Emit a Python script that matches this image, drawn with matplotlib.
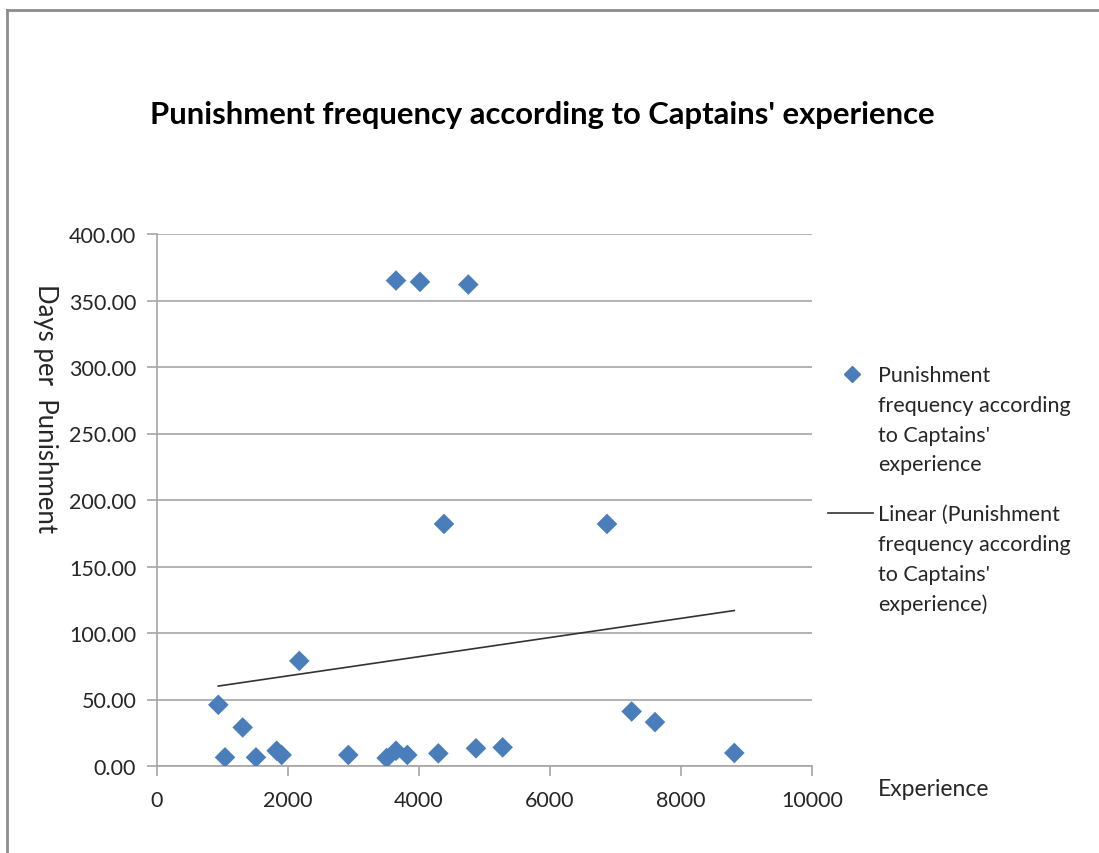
import numpy as np
import matplotlib
matplotlib.use("Agg")
import matplotlib.pyplot as plt
from matplotlib.lines import Line2D

# Captain experience vs. days between punishments
experience = [936, 1038, 1308, 1511, 1827, 1903, 2173, 2921, 3506, 3649,
              3649, 3822, 4015, 4295, 4382, 4753, 4870, 5277, 6870, 7247,
              7603, 8814]
days_per_punishment = [46, 6.5, 29, 6.5, 11.5, 8.3, 79, 8.3, 6, 11.5,
                       365, 8.3, 364, 9.5, 182, 362, 13.3, 14, 182, 41,
                       33, 9.8]

x_ticks = [0, 2000, 4000, 6000, 8000, 10000]
y_ticks = [0, 50, 100, 150, 200, 250, 300, 350, 400]

title = "Punishment frequency according to Captains' experience"
series_label = "Punishment\nfrequency according\nto Captains'\nexperience"
trend_label = "Linear (Punishment\nfrequency according\nto Captains'\nexperience)"

plt.rcParams['font.family'] = ['Lato', 'DejaVu Sans']
text_col = '#262626'
grid_col = '#a6a6a6'
marker_col = '#4a7ebb'

fig = plt.figure(figsize=(10.99, 8.54), dpi=100)
ax = fig.add_axes([157 / 1099, 87 / 854, 655 / 1099, 532 / 854])

ax.scatter(experience, days_per_punishment, marker='D', s=110, color=marker_col,
           edgecolors='none', zorder=3)

# least-squares trend line over the data range
slope, intercept = np.polyfit(experience, days_per_punishment, 1)
xs = np.array([min(experience), max(experience)])
ax.plot(xs, slope * xs + intercept, color='#333333', lw=1.2, zorder=2)

ax.set_xlim(0, 10000)
ax.set_ylim(0, 400)
ax.set_xticks(x_ticks)
ax.set_yticks(y_ticks)
ax.set_yticklabels([f"{v:.2f}" for v in y_ticks])
ax.yaxis.grid(True, color=grid_col, lw=1.2)
ax.set_axisbelow(True)
for s in ('top', 'right'):
    ax.spines[s].set_visible(False)
for s in ('left', 'bottom'):
    ax.spines[s].set_color(grid_col)
    ax.spines[s].set_linewidth(1.2)
ax.tick_params(axis='both', colors=grid_col, length=7, width=1.2,
               labelcolor=text_col, labelsize=15.5, pad=8)
ax.tick_params(axis='x', pad=10)

fig.text(542 / 1099, 1 - 115 / 854, title, ha='center', va='center',
         fontsize=22.3, fontweight='bold', color='black')
fig.text(45 / 1099, 1 - 409 / 854, "Days per  Punishment", rotation=270,
         ha='center', va='center', fontsize=18.5, color=text_col)
fig.text(878 / 1099, 1 - 790 / 854, "Experience", ha='left', va='center',
         fontsize=16.5, color=text_col)

# legend drawn in figure coordinates
fig.add_artist(Line2D([852 / 1099], [1 - 375 / 854], marker='D', markersize=8.5,
                      color=marker_col, lw=0, transform=fig.transFigure))
fig.text(878 / 1099, 1 - 366 / 854, series_label, ha='left', va='top',
         fontsize=15.5, color=text_col, linespacing=1.61)
fig.add_artist(Line2D([828 / 1099, 873 / 1099], [1 - 514 / 854, 1 - 514 / 854],
                      color='#333333', lw=1.2, transform=fig.transFigure))
fig.text(878 / 1099, 1 - 505 / 854, trend_label, ha='left', va='top',
         fontsize=15.5, color=text_col, linespacing=1.61)

# outer frame
fig.add_artist(Line2D([7 / 1099, 7 / 1099], [0, 1 - 11 / 854], color='#8c8c8c',
                      lw=2, transform=fig.transFigure))
fig.add_artist(Line2D([7 / 1099, 1], [1 - 11 / 854, 1 - 11 / 854], color='#8c8c8c',
                      lw=2, transform=fig.transFigure))

fig.savefig("out.png", dpi=100, facecolor='white')
